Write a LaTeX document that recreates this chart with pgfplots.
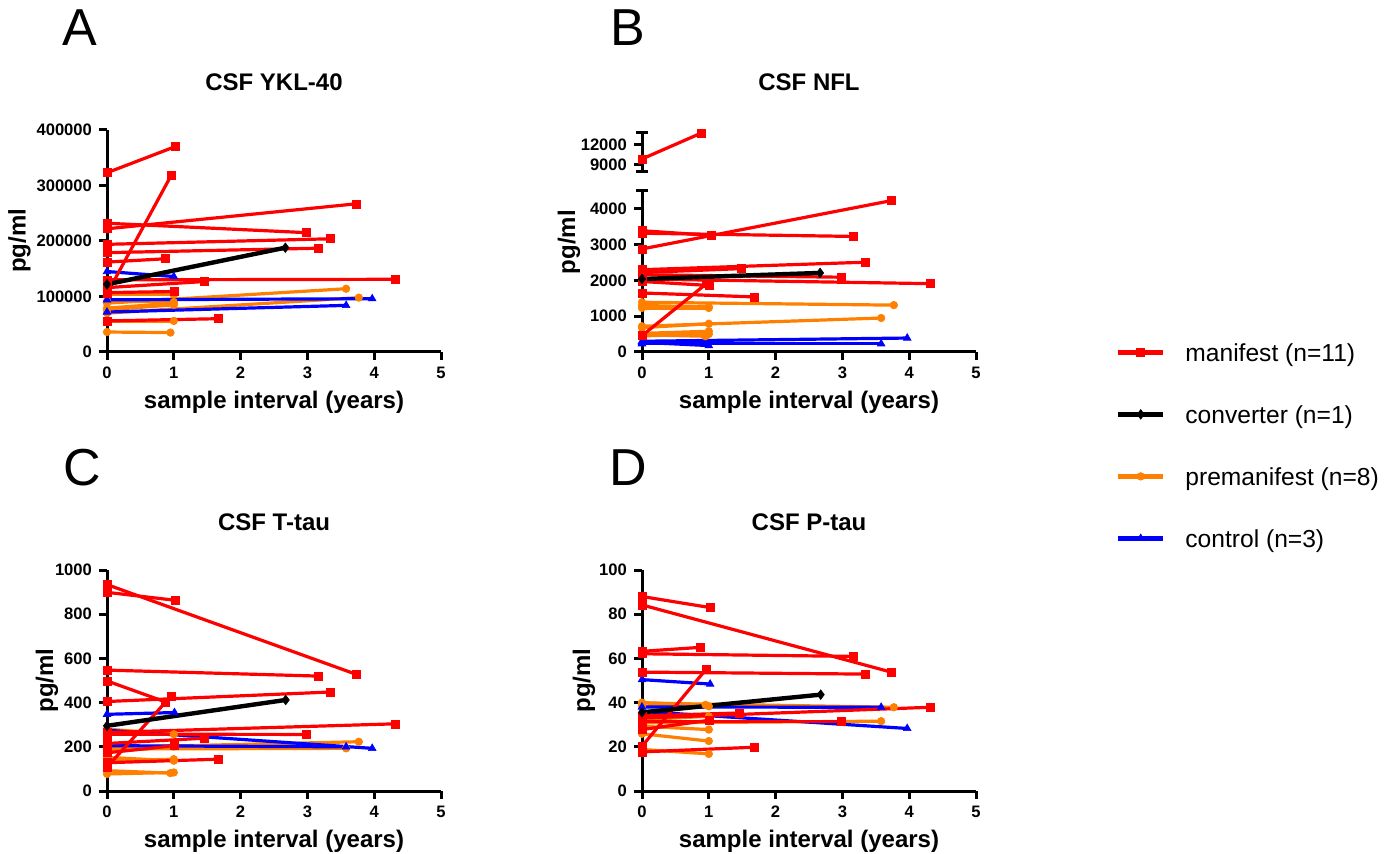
\documentclass[border=0pt]{standalone}
\usepackage{fontspec}
\setmainfont{Liberation Sans}
\usepackage{pgfplots}
\pgfplotsset{compat=1.18}
\definecolor{manred}{HTML}{FF0000}
\definecolor{preorange}{HTML}{FF8000}
\definecolor{ctlblue}{HTML}{0000FF}

\tikzset{
  man/.style={manred, line width=1.6pt, mark=square*, mark size=2pt, mark options={solid, line width=0.3pt}},
  conv/.style={black, line width=2.2pt, mark=diamond*, mark size=2.4pt, mark options={solid, line width=0.3pt}},
  pre/.style={preorange, line width=1.6pt, mark=*, mark size=1.9pt, mark options={solid, line width=0.3pt}},
  ctl/.style={ctlblue, line width=1.6pt, mark=triangle*, mark size=2.2pt, mark options={solid, line width=0.3pt}},
}
\pgfplotsset{
  panel/.style={
    scale only axis, width=167pt,
    axis lines*=left, axis line style={-, line width=1.5pt},
    tick align=outside, major tick length=4pt,
    tick style={line width=1.5pt, black},
    xmin=0, xmax=5, xtick={0,...,5}, ymin=0,
    clip=false,
    tick label style={font=\bfseries\fontsize{8.3}{10}\selectfont},
    label style={font=\bfseries\fontsize{12}{14}\selectfont},
    title style={font=\bfseries\fontsize{12}{14}\selectfont, anchor=center},
    xlabel={sample interval (years)}, ylabel={pg/ml},
    xlabel style={anchor=center},
    ylabel style={anchor=center},
    /pgf/number format/assume math mode=true,
    /pgf/number format/fixed,
    /pgf/number format/precision=0,
    /pgf/number format/1000 sep={},
    scaled y ticks=false,
  },
}

\begin{document}
\begin{tikzpicture}
\useasboundingbox (0,0) rectangle (697.5pt,-427pt);

% A: YKL-40
\begin{axis}[panel, at={(53.5pt,-176pt)}, anchor=south west, height=111pt,
  ymax=400000, ytick={0,100000,200000,300000,400000},
  title={CSF YKL-40}, title style={at={(axis description cs:0.5,1.162)}},
  xlabel style={at={(axis description cs:0.5,-0.225)}},
  ylabel style={at={(axis description cs:-0.262,0.5)}}]
\addplot[pre] coordinates {(0,88000) (3.58,114000)};
\addplot[pre] coordinates {(0,70000) (3.77,98000)};
\addplot[pre] coordinates {(0,103000) (1.0,103000)};
\addplot[pre] coordinates {(0,92000) (1.0,90000)};
\addplot[pre] coordinates {(0,79000) (1.0,88000)};
\addplot[pre] coordinates {(0,36000) (0.95,35000)};
\addplot[pre] coordinates {(0,56000) (1.0,56000)};
\addplot[pre] coordinates {(0,76000) (1.0,85000)};
\addplot[ctl] coordinates {(0,145000) (1.0,136000)};
\addplot[ctl] coordinates {(0,94000) (3.97,96000)};
\addplot[ctl] coordinates {(0,72000) (3.58,84000)};
\addplot[man] coordinates {(0,323000) (1.02,370000)};
\addplot[man] coordinates {(0,105000) (0.96,318000)};
\addplot[man] coordinates {(0,222000) (3.73,267000)};
\addplot[man] coordinates {(0,232000) (2.99,215000)};
\addplot[man] coordinates {(0,194000) (3.35,204000)};
\addplot[man] coordinates {(0,179000) (3.16,187000)};
\addplot[man] coordinates {(0,162000) (0.875,168000)};
\addplot[man] coordinates {(0,130000) (4.32,131000)};
\addplot[man] coordinates {(0,116000) (1.46,127000)};
\addplot[man] coordinates {(0,107000) (1.01,109000)};
\addplot[man] coordinates {(0,56000) (1.67,60000)};
\addplot[conv] coordinates {(0,122000) (2.67,188000)};
\end{axis}

% B: NFL, lower part
\begin{axis}[panel, at={(321pt,-176pt)}, anchor=south west, height=80.5pt,
  ymax=4500, ytick={0,1000,2000,3000,4000},
  extra y ticks={4500}, extra y tick labels={},
  extra y tick style={tick align=center, major tick length=6pt},
  title={CSF NFL}, title style={at={(axis description cs:0.5,1.602)}},
  xlabel style={at={(axis description cs:0.5,-0.31)}},
  ylabel style={at={(axis description cs:-0.219,0.683)}}]
\addplot[pre] coordinates {(0,1390) (3.77,1310)};
\addplot[pre] coordinates {(0,720) (3.58,950)};
\addplot[pre] coordinates {(0,1230) (1.0,1230)};
\addplot[pre] coordinates {(0,1300) (1.0,1260)};
\addplot[pre] coordinates {(0,680) (1.0,790)};
\addplot[pre] coordinates {(0,520) (1.0,580)};
\addplot[pre] coordinates {(0,450) (1.0,500)};
\addplot[pre] coordinates {(0,480) (0.95,440)};
\addplot[ctl] coordinates {(0,300) (3.97,390)};
\addplot[ctl] coordinates {(0,230) (3.58,230)};
\addplot[ctl] coordinates {(0,270) (1.0,180)};
\addplot[man] coordinates {(0,3390) (1.03,3260)};
\addplot[man] coordinates {(0,456) (0.965,1910)};
\addplot[man] coordinates {(0,2880) (3.73,4230)};
\addplot[man] coordinates {(0,2160) (2.99,2090)};
\addplot[man] coordinates {(0,2300) (3.35,2510)};
\addplot[man] coordinates {(0,3320) (3.16,3230)};
\addplot[man] coordinates {(0,2040) (4.32,1910)};
\addplot[man] coordinates {(0,2220) (1.48,2330)};
\addplot[man] coordinates {(0,1970) (1.0,1860)};
\addplot[man] coordinates {(0,1650) (1.675,1540)};
\addplot[conv] coordinates {(0,2040) (2.665,2210)};
\end{axis}

% B: NFL, upper part of the broken axis
\begin{axis}[panel, at={(321pt,-86pt)}, anchor=south west, height=19.5pt,
  axis x line=none, xlabel={}, ylabel={},
  ymin=7950, ymax=13800, ytick={9000,12000},
  extra y ticks={7950,13800}, extra y tick labels={},
  extra y tick style={tick align=center, major tick length=6pt}]
\addplot[man] coordinates {(0,9900) (0.89,13800)};
\end{axis}

% C: T-tau
\begin{axis}[panel, at={(53.5pt,-395.5pt)}, anchor=south west, height=110.5pt,
  ymax=1000, ytick={0,200,...,1000},
  title={CSF T-tau}, title style={at={(axis description cs:0.5,1.163)}},
  xlabel style={at={(axis description cs:0.5,-0.226)}},
  ylabel style={at={(axis description cs:-0.18,0.5)}}]
\addplot[pre] coordinates {(0,197) (3.77,223)};
\addplot[pre] coordinates {(0,190) (3.58,193)};
\addplot[pre] coordinates {(0,280) (1.0,257)};
\addplot[pre] coordinates {(0,152) (1.0,137)};
\addplot[pre] coordinates {(0,137) (1.0,144)};
\addplot[pre] coordinates {(0,92) (0.95,81)};
\addplot[pre] coordinates {(0,77) (1.0,84)};
\addplot[pre] coordinates {(0,177) (1.0,201)};
\addplot[ctl] coordinates {(0,347) (1.01,355)};
\addplot[ctl] coordinates {(0,275) (3.97,193)};
\addplot[ctl] coordinates {(0,205) (3.58,200)};
\addplot[man] coordinates {(0,899) (1.02,863)};
\addplot[man] coordinates {(0,108) (0.96,430)};
\addplot[man] coordinates {(0,934) (3.73,528)};
\addplot[man] coordinates {(0,257) (2.99,256)};
\addplot[man] coordinates {(0,405) (3.35,448)};
\addplot[man] coordinates {(0,547) (3.16,520)};
\addplot[man] coordinates {(0,498) (0.875,403)};
\addplot[man] coordinates {(0,265) (4.32,304)};
\addplot[man] coordinates {(0,215) (1.46,239)};
\addplot[man] coordinates {(0,173) (1.01,205)};
\addplot[man] coordinates {(0,128) (1.67,144)};
\addplot[conv] coordinates {(0,295) (2.675,412)};
\end{axis}

% D: P-tau
\begin{axis}[panel, at={(321pt,-395.5pt)}, anchor=south west, height=110.5pt,
  ymax=100, ytick={0,20,...,100},
  title={CSF P-tau}, title style={at={(axis description cs:0.5,1.163)}},
  xlabel style={at={(axis description cs:0.5,-0.226)}},
  ylabel style={at={(axis description cs:-0.174,0.5)}}]
\addplot[pre] coordinates {(0,39.8) (3.77,37.9)};
\addplot[pre] coordinates {(0,38.3) (1.0,38.3)};
\addplot[pre] coordinates {(0,30.8) (3.58,31.6)};
\addplot[pre] coordinates {(0,25.9) (1.0,22.6)};
\addplot[pre] coordinates {(0,29.3) (1.0,27.8)};
\addplot[pre] coordinates {(0,18.8) (1.0,16.8)};
\addplot[pre] coordinates {(0,32.3) (1.0,33.8)};
\addplot[pre] coordinates {(0,40) (0.95,39)};
\addplot[ctl] coordinates {(0,50.4) (1.02,48.4)};
\addplot[ctl] coordinates {(0,36) (3.97,28.3)};
\addplot[ctl] coordinates {(0,38) (3.58,37.9)};
\addplot[man] coordinates {(0,88) (1.02,83)};
\addplot[man] coordinates {(0,20.3) (0.955,54.9)};
\addplot[man] coordinates {(0,84.2) (3.73,53.8)};
\addplot[man] coordinates {(0,31.6) (2.99,31.6)};
\addplot[man] coordinates {(0,53.8) (3.35,52.9)};
\addplot[man] coordinates {(0,62.1) (3.16,60.9)};
\addplot[man] coordinates {(0,63.2) (0.875,65)};
\addplot[man] coordinates {(0,33) (4.32,37.9)};
\addplot[man] coordinates {(0,34) (1.45,35.3)};
\addplot[man] coordinates {(0,27.8) (1.0,32)};
\addplot[man] coordinates {(0,17.7) (1.675,19.8)};
\addplot[conv] coordinates {(0,35.6) (2.675,43.6)};
\end{axis}

% legend
\begin{axis}[hide axis, scale only axis, width=10pt, height=10pt,
  at={(557.5pt,-160.5pt)}, anchor=north west,
  xmin=0, xmax=1, ymin=0, ymax=1,
  legend image code/.code={%
    \draw[mark repeat=2, mark phase=2, #1, line width=2.8pt]
      plot coordinates {(0pt,0pt) (11.25pt,0pt) (22.5pt,0pt)};
    \path (32.5pt,0pt);},
  legend style={at={(0,1)}, anchor=north west, draw=none, fill=none,
    inner xsep=0pt, inner ysep=0pt, row sep=0pt,
    font=\fontsize{12.3}{14}\selectfont,
    nodes={inner sep=0pt, minimum height=31pt, text depth=0pt}},
  legend cell align=left]
\addlegendimage{man}
\addlegendentry{manifest (n=11)}
\addlegendimage{conv}
\addlegendentry{converter (n=1)}
\addlegendimage{pre}
\addlegendentry{premanifest (n=8)}
\addlegendimage{ctl}
\addlegendentry{control (n=3)}
\end{axis}

% panel letters
\node[font=\fontsize{26}{30}\selectfont] at (40pt,-14pt) {A};
\node[font=\fontsize{26}{30}\selectfont] at (314pt,-14pt) {B};
\node[font=\fontsize{26}{30}\selectfont] at (41pt,-234pt) {C};
\node[font=\fontsize{26}{30}\selectfont] at (314pt,-234pt) {D};
\end{tikzpicture}
\end{document}
